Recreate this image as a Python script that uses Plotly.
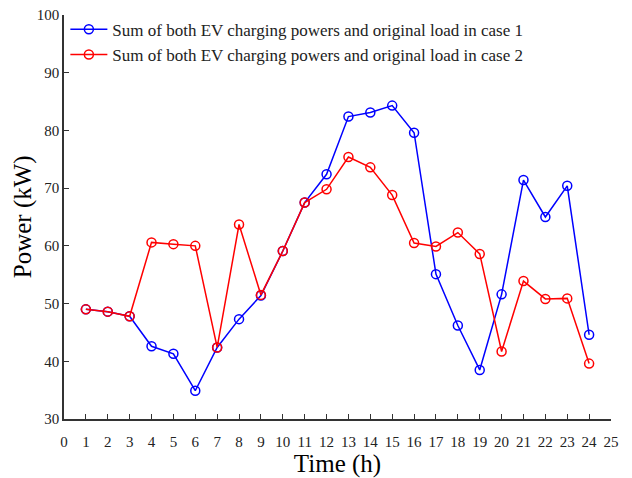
import plotly.graph_objects as go

hours = list(range(1, 25))
case1 = [49.0, 48.6, 47.8, 42.6, 41.3, 34.9, 42.4, 47.3, 51.4, 59.1, 67.5, 72.4,
         82.4, 83.1, 84.3, 79.6, 55.1, 46.2, 38.5, 51.6, 71.4, 65.0, 70.4, 44.6]
case2 = [49.0, 48.6, 47.8, 60.6, 60.3, 60.0, 42.4, 63.7, 51.5, 59.1, 67.5, 69.8,
         75.4, 73.6, 68.8, 60.5, 59.9, 62.3, 58.6, 41.7, 53.9, 50.8, 50.9, 39.6]
xticks = list(range(0, 26))
yticks = list(range(30, 101, 10))

font = "Liberation Serif, Times New Roman, serif"

fig = go.Figure()
fig.add_trace(go.Scatter(
    x=hours, y=case1, mode="lines+markers",
    name="Sum of both EV charging powers and original load in case 1",
    line=dict(color="#0000ff", width=1.5),
    marker=dict(symbol="circle-open", size=9, color="#0000ff", line=dict(width=1.5)),
))
fig.add_trace(go.Scatter(
    x=hours, y=case2, mode="lines+markers",
    name="Sum of both EV charging powers and original load in case 2",
    line=dict(color="#ff0000", width=1.5),
    marker=dict(symbol="circle-open", size=9, color="#ff0000", line=dict(width=1.5)),
))

fig.update_layout(
    width=632, height=478,
    margin=dict(l=64, r=21, t=12, b=59),
    plot_bgcolor="white", paper_bgcolor="white",
    font=dict(family=font, size=15, color="#222222"),
    showlegend=True,
    legend=dict(x=0.0025, y=1.008, xanchor="left", yanchor="top",
                bgcolor="rgba(0,0,0,0)", borderwidth=0,
                font=dict(family=font, size=17, color="#222222"),
                tracegroupgap=0, itemwidth=37),
    annotations=[dict(text="Power (kW)", xref="paper", yref="paper",
                      x=-0.0745, y=0.5, xanchor="center", yanchor="middle",
                      textangle=-90, showarrow=False,
                      font=dict(family=font, size=25, color="#000000"))],
)
fig.update_xaxes(
    range=[0, 25], tickmode="array", tickvals=xticks,
    ticktext=[str(v) for v in xticks],
    showgrid=False, zeroline=False, automargin=False,
    showline=True, linecolor="#333333", linewidth=1.5,
    ticks="inside", ticklen=5, tickcolor="#333333", ticklabelstandoff=8,
    tickfont=dict(family=font, size=15, color="#222222"),
    title=dict(text="Time (h)", font=dict(family=font, size=25, color="#000000"), standoff=4),
)
fig.update_yaxes(
    range=[30, 100], tickmode="array", tickvals=yticks,
    showgrid=False, zeroline=False, automargin=False,
    showline=True, linecolor="#333333", linewidth=1.5,
    ticks="inside", ticklen=5, tickcolor="#333333",
    tickfont=dict(family=font, size=15, color="#222222"),
)

fig.write_html("out.html", config={"displayModeBar": False},
               post_script="document.body.style.margin='0';")
